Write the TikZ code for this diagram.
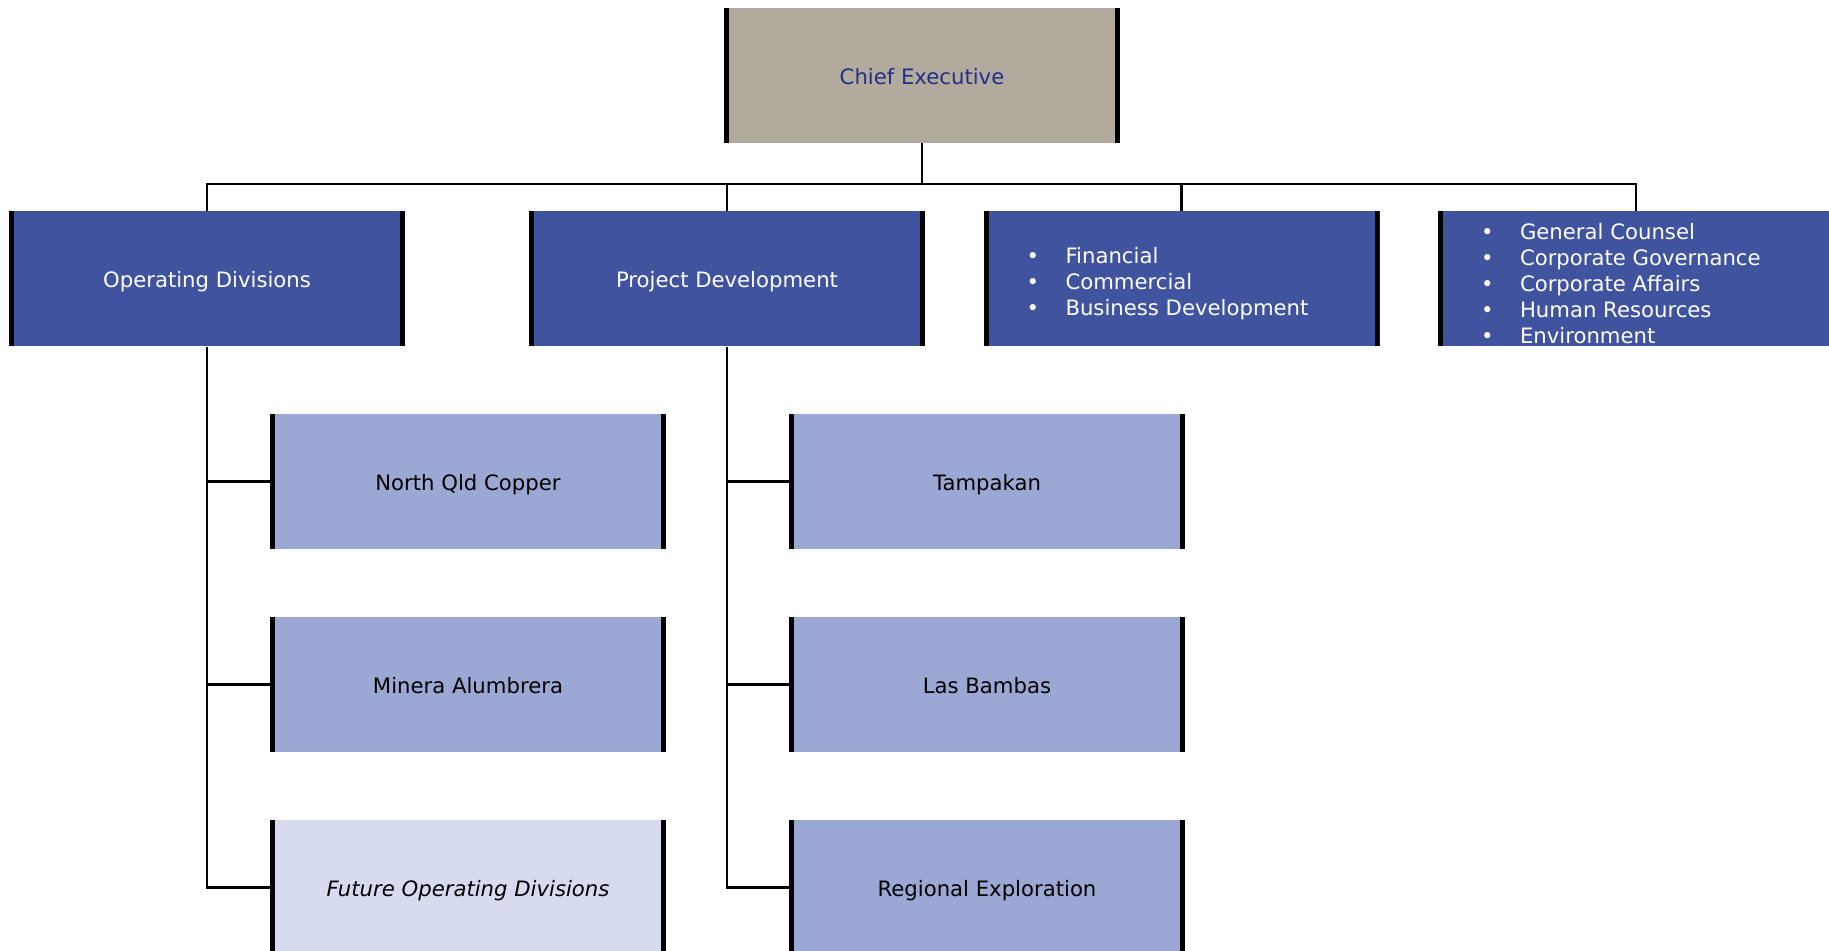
\documentclass[tikz,border=0pt]{standalone}
\usepackage{fontspec}
\setmainfont{DejaVu Sans}[ItalicFont={DejaVu Sans Oblique}]
\definecolor{ceFill}{HTML}{B3AA9E}
\definecolor{darkFill}{HTML}{3F539E}
\definecolor{lightFill}{HTML}{9CA8D4}
\definecolor{paleFill}{HTML}{D6DBEF}
\definecolor{ceText}{HTML}{1F2F8A}
\newcommand\bulitem[1]{\makebox[19.5pt][l]{\textbullet}#1}
\tikzset{
  boxbase/.style={minimum width=198pt, minimum height=67.5pt, inner sep=0pt,
    text height=10pt, text depth=1pt,
    font=\fontsize{10.6}{13}\selectfont,
    path picture={
      \fill[black] (path picture bounding box.north west) rectangle ([xshift=2.5pt]path picture bounding box.south west);
      \fill[black] (path picture bounding box.north east) rectangle ([xshift=-2.5pt]path picture bounding box.south east);}},
  chief/.style={boxbase, fill=ceFill, text=ceText},
  dept/.style={boxbase, fill=darkFill, text=white},
  unitbox/.style={boxbase, fill=lightFill, text=black},
  futurebox/.style={boxbase, fill=paleFill, text=black, font=\fontsize{10.6}{13}\selectfont\itshape},
  bullets/.style={anchor=west, inner sep=0pt, align=left, text=white, font=\fontsize{10.6}{13}\selectfont},
  link/.style={line width=1.3pt, black},
}
\begin{document}
\begin{tikzpicture}[x=0.5pt, y=-0.5pt]
\useasboundingbox (0,0) rectangle (1829,951);
\clip (0,0) rectangle (1829,951);
% boxes
\node[chief] (ce) at (922,75.5) {Chief Executive};
\node[dept] (od) at (207,279) {Operating Divisions};
\node[dept] (pd) at (727,279) {Project Development};
\node[dept] (fin) at (1181.5,279) {};
\node[dept] (gc) at (1636,279) {};
\node[bullets] (fintext) at ([xshift=21.5pt,yshift=-2.2pt]fin.west) {\bulitem{Financial}\\ \bulitem{Commercial}\\ \bulitem{Business Development}};
\node[bullets] (gctext) at ([xshift=21.5pt,yshift=-2.2pt]gc.west) {\bulitem{General Counsel}\\ \bulitem{Corporate Governance}\\ \bulitem{Corporate Affairs}\\ \bulitem{Human Resources}\\ \bulitem{Environment}};
\node[unitbox] (nqc) at (468,481.5) {North Qld Copper};
\node[unitbox] (ma) at (468,684.5) {Minera Alumbrera};
\node[futurebox] (fod) at (468,887.5) {Future Operating Divisions};
\node[unitbox] (tam) at (987,481.5) {Tampakan};
\node[unitbox] (lb) at (987,684.5) {Las Bambas};
\node[unitbox] (re) at (987,887.5) {Regional Exploration};
% connectors
\coordinate (bus) at (922,184);
\draw[link] (ce.south) -- (bus);
\draw[link] (bus) -| (od.north);
\draw[link] (bus) -| (pd.north);
\draw[link] (bus) -| (fin.north);
\draw[link] (bus) -| (gc.north);
\draw[link] (od.south) |- (nqc.west);
\draw[link] (od.south) |- (ma.west);
\draw[link] (od.south) |- (fod.west);
\draw[link] (pd.south) |- (tam.west);
\draw[link] (pd.south) |- (lb.west);
\draw[link] (pd.south) |- (re.west);
\end{tikzpicture}
\end{document}
